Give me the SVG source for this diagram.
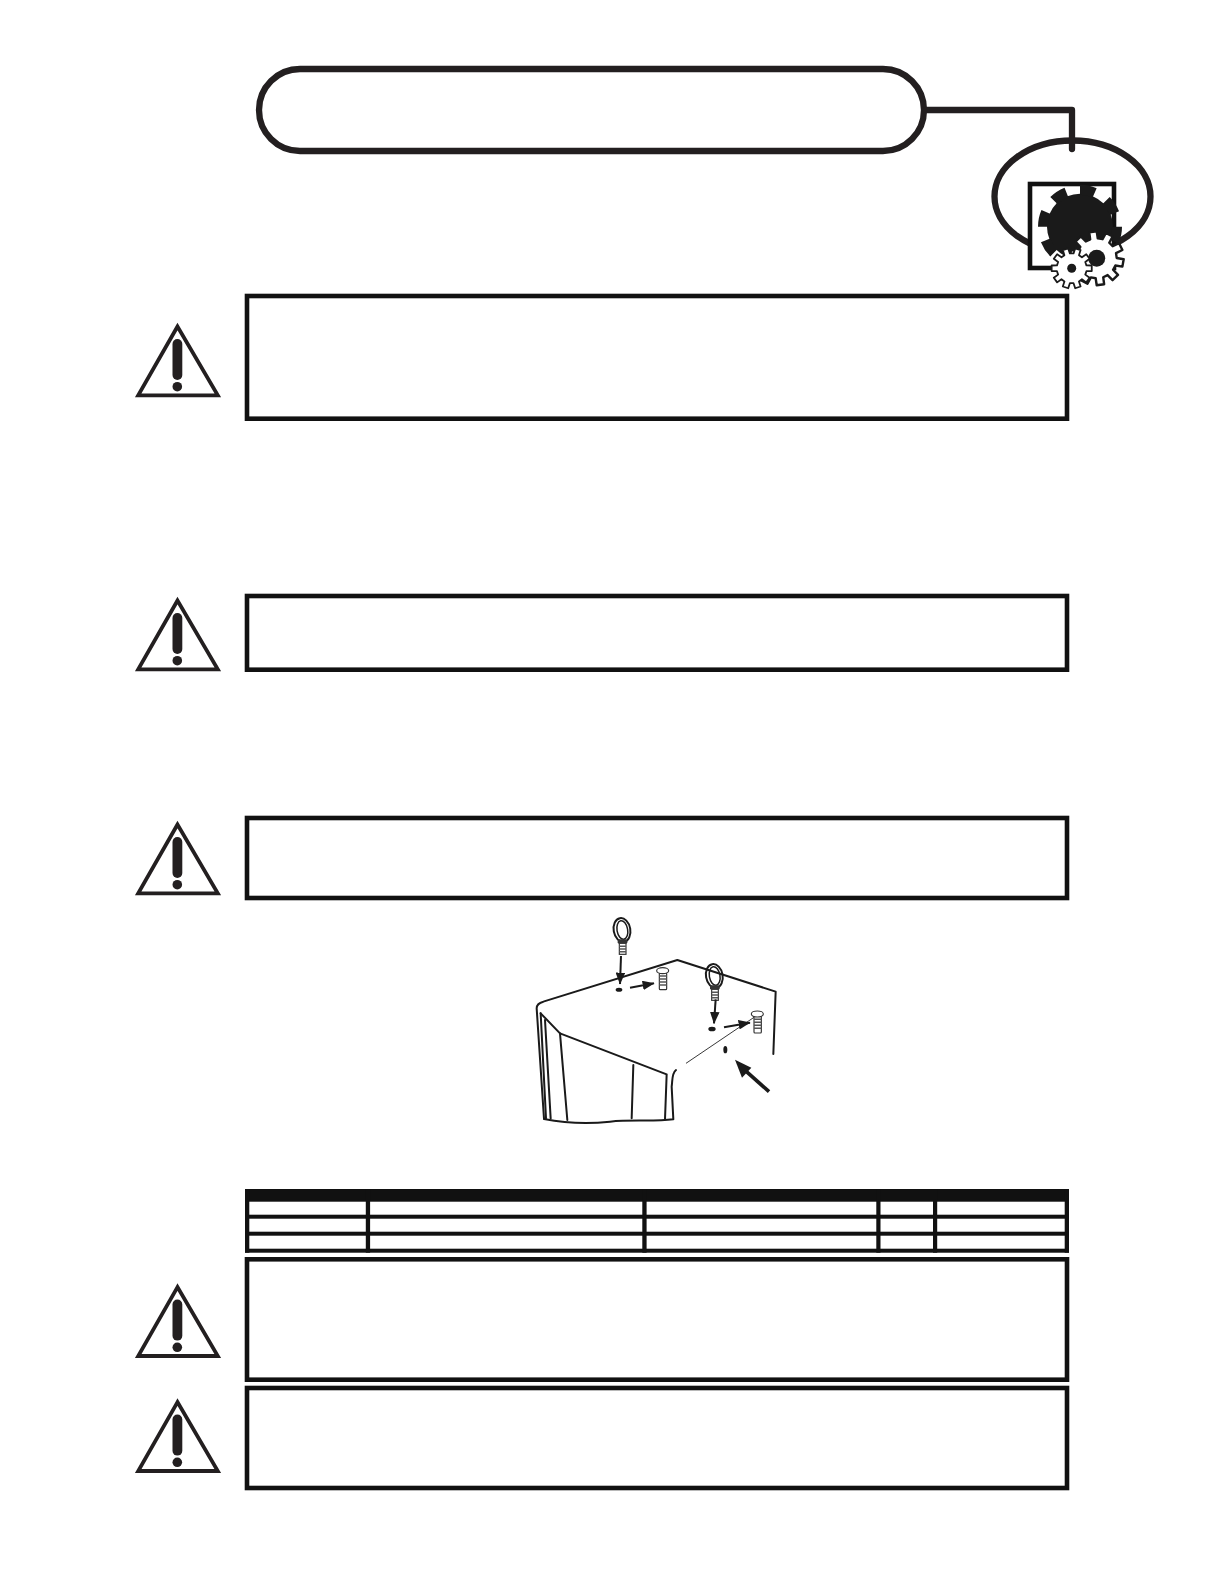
<svg xmlns="http://www.w3.org/2000/svg" xmlns:xlink="http://www.w3.org/1999/xlink" width="1224" height="1584" viewBox="0 0 1224 1584">
<style>
.ink{fill:none;stroke:#231f20;stroke-width:6.3}
.box{fill:#fff;stroke:#111;stroke-width:4.6}
.bar{fill:#111}
.tri{fill:#fff;stroke:#231f20;stroke-width:3.8;stroke-miterlimit:10}
.mark{fill:#231f20}
.d{fill:none;stroke:#1a1a1a;stroke-width:6;stroke-linecap:round;stroke-linejoin:round}
.f{fill:#1a1a1a}
.cog{fill:#fff;stroke:#1a1a1a;stroke-width:2.4;stroke-linejoin:round}
</style>
<defs>
<g id="warn">
<polygon class="tri" points="177.5,3.8 138.2,72.7 217.8,72.7"/>
<rect class="mark" x="172.5" y="16.3" width="9.8" height="41" rx="4.9"/>
<circle class="mark" cx="177.3" cy="64" r="4.8"/>
</g>
<polygon id="gear" class="cog" points="19.63,-3.82 26.74,-3.76 26.74,3.76 19.63,3.82 18.13,8.45 23.84,12.68 19.42,18.76 13.64,14.63 9.7,17.49 11.84,24.27 4.69,26.59 2.44,19.85 -2.44,19.85 -4.69,26.59 -11.84,24.27 -9.7,17.49 -13.64,14.63 -19.42,18.76 -23.84,12.68 -18.13,8.45 -19.63,3.82 -26.74,3.76 -26.74,-3.76 -19.63,-3.82 -18.13,-8.45 -23.84,-12.68 -19.42,-18.76 -13.64,-14.63 -9.7,-17.49 -11.84,-24.27 -4.69,-26.59 -2.44,-19.85 2.44,-19.85 4.69,-26.59 11.84,-24.27 9.7,-17.49 13.64,-14.63 19.42,-18.76 23.84,-12.68 18.13,-8.45"/>
<g id="eyebolt">
<ellipse cx="336" cy="90" rx="25" ry="36" transform="rotate(-10 336 90)" fill="none" stroke="#1a1a1a" stroke-width="6"/>
<ellipse cx="337" cy="90" rx="16" ry="28" transform="rotate(-10 337 90)" fill="none" stroke="#1a1a1a" stroke-width="4.5"/>
<rect x="323" y="118" width="29" height="13" rx="4" fill="#333"/>
<rect x="328" y="130" width="20" height="33" fill="#fff" stroke="#333" stroke-width="3.5"/>
<path d="M328 139H348M328 147H348M328 155H348" stroke="#555" stroke-width="4.5" fill="none"/>
</g>
<g id="screw">
<rect x="448" y="218" width="22" height="51" rx="3" fill="#fff" stroke="#333" stroke-width="3.5"/>
<path d="M448 228H470M448 237H470M448 246H470M448 255H470" stroke="#555" stroke-width="4.5" fill="none"/>
<ellipse cx="458" cy="212" rx="18" ry="9" fill="#fff" stroke="#333" stroke-width="3.5"/>
</g>
<marker id="head" viewBox="0 0 10 8" refX="9.5" refY="4" markerWidth="6" markerHeight="4.8" markerUnits="strokeWidth" orient="auto">
<polygon points="0,0 10,4 0,8" fill="#1a1a1a"/>
</marker>
</defs>
<rect width="1224" height="1584" fill="#fff"/>

<g id="title-pill">
<rect class="ink" x="259" y="69" width="665" height="82" rx="41" fill="#fff"/>
</g>

<g id="gear-badge">
<ellipse class="ink" cx="1072.5" cy="196.5" rx="78" ry="56"/>
<rect class="box" x="1030" y="184" width="84" height="84"/>
<circle class="f" cx="1080" cy="226.7" r="33"/>
<circle cx="1080" cy="226.7" r="37" fill="none" stroke="#1a1a1a" stroke-width="10" pathLength="8" stroke-dasharray=".52 .48"/>
<use xlink:href="#gear" href="#gear" transform="translate(1096.7 258.3) rotate(10)"/>
<circle class="f" cx="1096.7" cy="258.3" r="8.5"/>
<use xlink:href="#gear" href="#gear" transform="translate(1071.7 268.3) scale(.75)"/>
<circle class="f" cx="1071.7" cy="268.3" r="4.5"/>
</g>

<g id="connectors">
<path class="ink" d="M926 110H1072V149" stroke-linecap="round" stroke-linejoin="round"/>
</g>

<g id="warning-1">
<use xlink:href="#warn" href="#warn" y="322.7"/>
<rect class="box" x="247" y="296" width="820" height="122.7"/>
</g>
<g id="warning-2">
<use xlink:href="#warn" href="#warn" y="596.7"/>
<rect class="box" x="247" y="596" width="820" height="73.7"/>
</g>
<g id="warning-3">
<use xlink:href="#warn" href="#warn" y="820.7"/>
<rect class="box" x="247" y="818" width="820" height="80"/>
</g>

<g id="lifting-illustration" transform="translate(510 900) scale(.33333)">
<path class="d" d="M102 656L80 325Q80 310 100 305L502 180L797 275L790 462"/>
<path class="d" d="M92 340L150 400L470 523L465 658"/>
<path class="d" stroke-width="4.5" d="M92 340L108 655M105 360L122 655M150 400L172 660M370 495L365 655"/>
<path class="d" d="M102 657C170 670 230 672 300 665C370 658 430 666 490 658L485 560C488 540 485 520 498 510"/>
<path fill="none" stroke="#1a1a1a" stroke-width="2.6" d="M528 490L735 350"/>
<use xlink:href="#eyebolt" href="#eyebolt"/>
<use xlink:href="#eyebolt" href="#eyebolt" transform="translate(277 138)"/>
<use xlink:href="#screw" href="#screw"/>
<use xlink:href="#screw" href="#screw" transform="translate(284 130)"/>
<path fill="none" stroke="#1a1a1a" stroke-width="6" marker-end="url(#head)" d="M333 168L330 252"/>
<path fill="none" stroke="#1a1a1a" stroke-width="6" marker-end="url(#head)" d="M617 298L612 370"/>
<path fill="none" stroke="#1a1a1a" stroke-width="6" marker-end="url(#head)" d="M360 263L432 250"/>
<path fill="none" stroke="#1a1a1a" stroke-width="6" marker-end="url(#head)" d="M642 382L720 368"/>
<ellipse class="f" cx="327" cy="269" rx="10" ry="6"/>
<ellipse class="f" cx="606" cy="387" rx="11" ry="7"/>
<ellipse class="f" cx="646" cy="449" rx="6" ry="11"/>
<path fill="none" stroke="#1a1a1a" stroke-width="11" d="M777 575L702 508"/>
<polygon class="f" points="675,479 724,503 696,533"/>
</g>

<g id="parts-table">
<rect class="bar" x="245" y="1189" width="824" height="12.7"/>
<rect class="bar" x="245" y="1214.7" width="824" height="4"/>
<rect class="bar" x="245" y="1231.7" width="824" height="4"/>
<rect class="bar" x="245" y="1248.7" width="824" height="4"/>
<rect class="bar" x="245" y="1189" width="4.3" height="63.7"/>
<rect class="bar" x="1064.7" y="1189" width="4.3" height="63.7"/>
<rect class="bar" x="365.8" y="1189" width="4.3" height="63.7"/>
<rect class="bar" x="642.3" y="1189" width="4.3" height="63.7"/>
<rect class="bar" x="876.3" y="1189" width="4.2" height="63.7"/>
<rect class="bar" x="933" y="1189" width="4.2" height="63.7"/>
</g>

<g id="warning-4">
<use xlink:href="#warn" href="#warn" y="1283.3"/>
<rect class="box" x="247" y="1259.3" width="820" height="120.4"/>
</g>
<g id="warning-5">
<use xlink:href="#warn" href="#warn" y="1398.3"/>
<rect class="box" x="247" y="1388" width="820" height="100"/>
</g>
</svg>
